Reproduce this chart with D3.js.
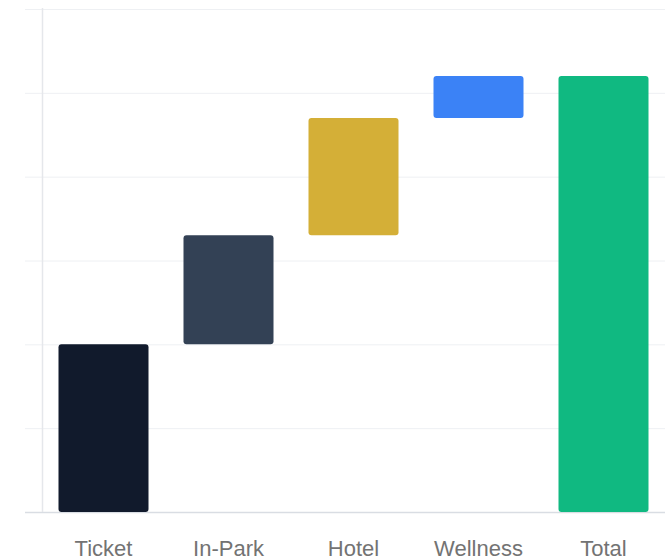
<!DOCTYPE html>
<html>
<head>
<meta charset="utf-8">
<script src="https://cdn.jsdelivr.net/npm/d3@7"></script>
<style>
  body { margin: 0; background: #fff; }
  svg { display: block; }
</style>
</head>
<body>
<div id="graph"></div>
<script>
var categories = ["Ticket", "In-Park", "Hotel", "Wellness", "Total"];
var values = [40, 26, 28, 10, 104];
var isTotal = [false, false, false, false, true];
var colors = ["#111a2c", "#334155", "#d4af37", "#3b82f6", "#10b981"];
var yTicks = [0, 20, 40, 60, 80, 100, 120];

addEventListener("load", function () {
  draw();
});

function draw() {
  var svg = d3.select("#graph")
      .append("svg")
      .attr("width", 672)
      .attr("height", 559);

  var x = d3.scaleBand()
      .domain(categories)
      .range([41, 666])
      .paddingInner(0.28)
      .paddingOuter(0.14);

  var y = d3.scaleLinear()
      .domain([0, 120])
      .range([512, 9]);

  // running totals for the waterfall
  var run = 0;
  var data = categories.map(function (c, i) {
    var start, end;
    if (isTotal[i]) {
      start = 0;
      end = values[i];
    } else {
      start = run;
      end = run + values[i];
      run = end;
    }
    return { name: c, start: start, end: end, color: colors[i] };
  });

  // grid
  svg.append("g")
    .selectAll("line")
    .data(yTicks)
    .enter()
    .append("line")
    .attr("x1", 25)
    .attr("x2", 665)
    .attr("y1", function (d) { return y(d) + 0.5; })
    .attr("y2", function (d) { return y(d) + 0.5; })
    .attr("stroke", function (d) { return d === 0 ? "#d9dde3" : "#eef0f3"; })
    .attr("stroke-width", function (d) { return d === 0 ? 1.5 : 1; });

  // y axis line
  svg.append("line")
    .attr("x1", 42.5)
    .attr("x2", 42.5)
    .attr("y1", y(120) - 1)
    .attr("y2", y(0))
    .attr("stroke", "#e5e7eb")
    .attr("stroke-width", 1.5);

  svg.selectAll("rect.bar")
    .data(data)
    .enter()
    .append("rect")
    .attr("class", "bar")
    .attr("x", function (d) { return x(d.name); })
    .attr("y", function (d) { return y(d.end); })
    .attr("width", x.bandwidth())
    .attr("height", function (d) { return y(d.start) - y(d.end); })
    .attr("rx", 3)
    .attr("fill", function (d) { return d.color; });

  var xAxis = svg.append("g")
    .attr("transform", "translate(0,512)")
    .call(d3.axisBottom(x).tickSize(0).tickPadding(0));
  xAxis.select(".domain").remove();
  xAxis.selectAll("text")
    .attr("y", 44)
    .attr("dy", 0)
    .attr("fill", "#737373")
    .style("font-family", "'Liberation Sans', Arial, sans-serif")
    .style("font-size", "22px");
}
</script>
</body>
</html>
